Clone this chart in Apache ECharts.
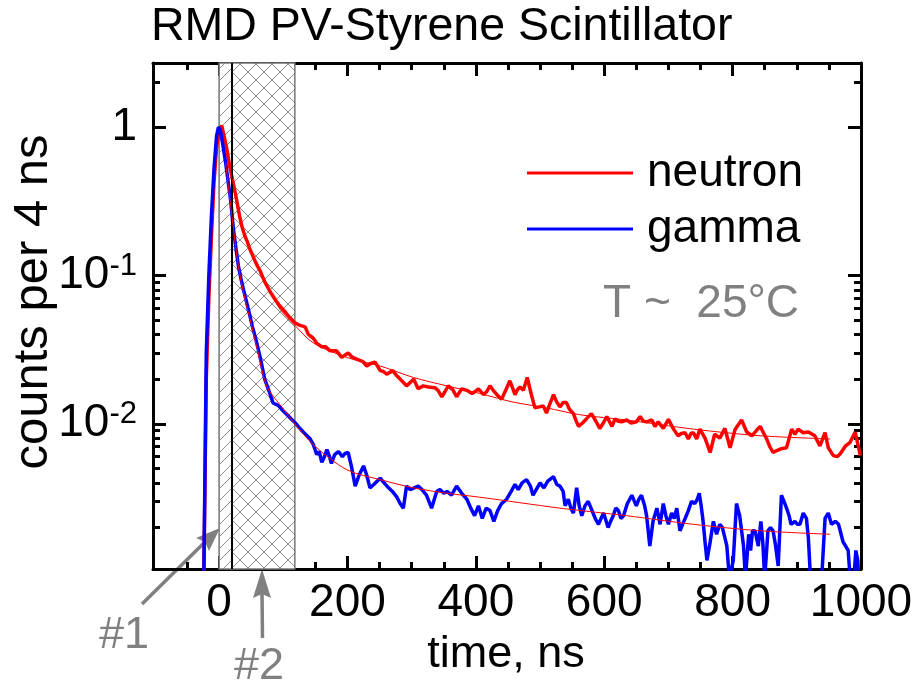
<!DOCTYPE html>
<html>
<head>
<meta charset="utf-8">
<script src="https://cdn.jsdelivr.net/npm/echarts@6/dist/echarts.min.js"></script>
<style>
html, body { margin: 0; padding: 0; background: #fff; }
#main { width: 916px; height: 691px; }
</style>
</head>
<body>
<div id="main"></div>
<script>
// time axis ticks (ns)
const xMajor = [0, 200, 400, 600, 800, 1000];
const xMinor = [-50, 50, 100, 150, 250, 300, 350, 450, 500, 550, 650, 700, 750, 850, 900, 950];
const yMajor = [0.01, 0.1, 1];
const yMinor = [0.002, 0.003, 0.004, 0.005, 0.006, 0.007, 0.008, 0.009,
    0.02, 0.03, 0.04, 0.05, 0.06, 0.07, 0.08, 0.09, 2];

// gate regions #1 and #2 (ns)
const gateT = [0, 20, 118];

// neutron pulse shape
const neutronT = [-24, -20, -16, -12, -8, -4, 0, 4, 8, 12, 16, 20, 24, 28, 32, 36, 40, 44, 48, 52, 56, 60, 64, 68, 72, 80, 88, 95, 104, 110, 118,
    126, 134, 139, 146, 152, 160, 166, 173, 183, 191, 196, 201, 208, 217, 224, 230, 236, 243, 251, 256, 261, 266, 271, 276, 282, 287, 292, 298,
    303, 310, 318, 326, 336, 341, 347, 352, 357, 364, 370, 378, 386, 394, 399, 404, 412, 417, 422, 427, 434, 440, 447, 453, 461, 465, 469, 474,
    480, 486, 492, 499, 505, 510, 515, 521, 526, 531, 536, 541, 546, 552, 556, 560, 567, 574, 580, 587, 593, 599, 604, 612, 617, 622, 627, 635,
    642, 650, 656, 661, 666, 674, 679, 684, 692, 700, 708, 715, 720, 726, 731, 735, 739, 744, 749, 757, 765, 772, 780, 788, 796, 804, 814, 822,
    830, 837, 843, 848, 853, 858, 863, 869, 876, 884, 892, 897, 902, 910, 918, 928, 936, 944, 949, 957, 963, 968, 976, 983, 991, 999];
const neutronV = [0.0008, 0.02, 0.07, 0.18, 0.42, 0.72, 0.95, 1.02, 0.86, 0.71, 0.56, 0.46, 0.38, 0.31, 0.25, 0.21, 0.185, 0.168, 0.15, 0.137,
    0.125, 0.115, 0.107, 0.097, 0.089, 0.077, 0.068, 0.062, 0.056, 0.052, 0.048,
    0.046, 0.045, 0.040, 0.038, 0.035, 0.033, 0.033, 0.031, 0.031, 0.028, 0.029, 0.030, 0.028, 0.027, 0.0262, 0.0245, 0.0255, 0.026, 0.0228,
    0.0225, 0.0216, 0.0222, 0.0228, 0.0212, 0.020, 0.019, 0.018, 0.019,
    0.020, 0.0172, 0.018, 0.0177, 0.0175, 0.0168, 0.0152, 0.0165, 0.018, 0.017, 0.0152, 0.0172, 0.0168, 0.016, 0.0165, 0.0172, 0.0157, 0.0165,
    0.018, 0.0168, 0.0155, 0.0146, 0.017, 0.0195, 0.0157, 0.017, 0.0177, 0.0168,
    0.0205, 0.016, 0.0128, 0.013, 0.0132, 0.0118, 0.0135, 0.0157, 0.014, 0.013, 0.0139, 0.0139, 0.0125, 0.0117, 0.0105, 0.0096, 0.0102, 0.011,
    0.0117, 0.0104, 0.0093, 0.0102, 0.0112, 0.0096, 0.0108, 0.0104, 0.0103, 0.0106,
    0.0101, 0.0103, 0.0112, 0.0104, 0.0103, 0.0106, 0.0096, 0.0103, 0.0093, 0.0107, 0.0092, 0.0083, 0.0086, 0.0087, 0.0079, 0.0086, 0.0087,
    0.0079, 0.0092, 0.008, 0.0064, 0.0085, 0.008, 0.0093, 0.0069, 0.0092, 0.0106, 0.0088,
    0.0083, 0.009, 0.0096, 0.0087, 0.0079, 0.007, 0.0064, 0.0066, 0.0068, 0.0069, 0.0092, 0.0085, 0.0092, 0.0087, 0.0088, 0.0083, 0.0071,
    0.0087, 0.0069, 0.0061, 0.006, 0.0063, 0.0071, 0.0075, 0.0088, 0.0061];

// gamma pulse shape
const gammaT = [-24, -20, -16, -12, -8, -4, -1, 2, 6, 10, 14, 18, 22, 26, 30, 34, 38, 46, 52, 58, 64, 71, 78, 84, 87, 92, 95, 100, 106, 112, 118,
    124, 131, 137, 142, 147, 152, 156, 160, 164, 168, 172, 175, 180, 186, 192, 196, 201, 206, 212, 218, 225, 230, 235, 241, 246, 251, 257, 264,
    270, 277, 282, 287, 292, 298, 304, 310, 316, 323, 331, 339, 344, 350, 355, 362, 370, 378, 386, 392, 398, 404, 410, 416, 422, 428, 434, 440,
    448, 455, 461, 466, 472, 479, 485, 489, 494, 500, 506, 512, 521, 526, 531, 536, 539, 544, 548, 552, 557, 561, 565, 570, 575, 581, 586, 591,
    595, 599, 603, 606, 610, 614, 618, 622, 626, 630, 636, 643, 647, 650, 654, 658, 663, 666, 671, 676, 682, 687, 692, 696, 700, 705, 709, 713,
    718, 722, 726, 731, 736, 741, 745, 748, 751, 754, 757, 760, 765, 770, 775, 780, 784, 788, 791, 795, 801, 806, 811, 817, 820, 825, 828, 831,
    835, 840, 844, 847, 850, 855, 859, 863, 867, 871, 876, 880, 884, 888, 891, 897, 901, 905, 910, 915, 918, 922, 930, 938, 944, 949, 954, 960,
    965, 969, 972, 976, 980, 984, 988, 992, 995, 997, 1000];
const gammaV = [0.0008, 0.03, 0.1, 0.25, 0.52, 0.87, 1.0, 0.95, 0.75, 0.58, 0.43, 0.32, 0.21, 0.155, 0.116, 0.095, 0.08, 0.058, 0.045, 0.036,
    0.028, 0.020, 0.0165, 0.0138, 0.0136, 0.0133, 0.0131, 0.0122, 0.0115, 0.0108, 0.0102,
    0.0095, 0.0088, 0.0083, 0.0079, 0.0072, 0.0062, 0.0065, 0.0055, 0.006, 0.0067, 0.006, 0.0054, 0.0062, 0.0065, 0.006, 0.0063, 0.0064, 0.0052,
    0.0038, 0.0045, 0.0052, 0.0045, 0.0037, 0.0039, 0.0041, 0.0043, 0.004, 0.0037,
    0.0035, 0.0032, 0.0029, 0.0027, 0.0038, 0.0036, 0.0037, 0.0038, 0.0036, 0.0033, 0.0027, 0.0035, 0.0036, 0.0034, 0.0035, 0.0033, 0.0038,
    0.0034, 0.0031, 0.0027, 0.0024, 0.0028, 0.0023, 0.0027, 0.0026, 0.0022, 0.0026, 0.0029,
    0.0031, 0.0035, 0.0039, 0.0036, 0.004, 0.0042, 0.0038, 0.0033, 0.0036, 0.004, 0.0037, 0.0041, 0.0044, 0.0039, 0.0038, 0.0035, 0.0028,
    0.0031, 0.0027, 0.0025, 0.0037, 0.0028, 0.0024, 0.0028, 0.003, 0.0026, 0.0023, 0.0021,
    0.0023, 0.0025, 0.0022, 0.002, 0.0022, 0.0024, 0.0027, 0.0026, 0.0023, 0.0024, 0.0029, 0.0033, 0.003, 0.0028, 0.0031, 0.0033, 0.0028,
    0.0024, 0.0015, 0.0022, 0.0027, 0.0021, 0.0029, 0.0024, 0.0021, 0.0025, 0.0023, 0.0027,
    0.0019, 0.0021, 0.0023, 0.0026, 0.003, 0.0029, 0.0031, 0.0034, 0.0028, 0.0022, 0.0016, 0.0012, 0.0016, 0.0022, 0.0018, 0.0021, 0.002,
    0.0017, 0.0015, 0.0009, 0.0012, 0.0029, 0.0024, 0.0015, 0.0009, 0.0018, 0.0014, 0.0019,
    0.0019, 0.0015, 0.0022, 0.0016, 0.0009, 0.0019, 0.002, 0.0019, 0.0015, 0.0011, 0.0033, 0.003, 0.0027, 0.0024, 0.0021, 0.0022, 0.0021,
    0.0021, 0.0025, 0.0023, 0.0017, 0.0008, 0.0006, 0.0008, 0.0023, 0.0025, 0.0021, 0.0022,
    0.0021, 0.0018, 0.0016, 0.0015, 0.0014, 0.0008, 0.0008, 0.0014, 0.0012, 0.0008, 0.0008];

// fitted tails
const neutronFitT = [10, 20, 30, 40, 50, 60, 70, 80, 95, 118, 147, 199, 251, 303, 355, 406, 458, 510, 562, 635, 739, 843, 952];
const neutronFitV = [0.7, 0.45, 0.28, 0.19, 0.145, 0.115, 0.093, 0.077, 0.059, 0.046, 0.035, 0.028, 0.0245, 0.0205, 0.018, 0.016, 0.014,
    0.0128, 0.0115, 0.0106, 0.0092, 0.0083, 0.0079];
const gammaFitT = [10, 20, 30, 40, 50, 60, 74, 100, 118, 147, 199, 251, 303, 355, 406, 531, 635, 739, 843, 952];
const gammaFitV = [0.58, 0.25, 0.116, 0.07, 0.047, 0.031, 0.018, 0.0126, 0.0100, 0.0072, 0.0049, 0.0042, 0.0037, 0.0034, 0.0032, 0.0027,
    0.0024, 0.0021, 0.0019, 0.0018];

const FONT = '"Liberation Sans", Arial, sans-serif';
const GRAY = '#808080';

function zip(a, b) {
    return a.map((v, i) => [v, b[i]]);
}

function hatchTile(size, cross) {
    const c = document.createElement('canvas');
    c.width = size;
    c.height = size;
    const g = c.getContext('2d');
    g.fillStyle = '#fff';
    g.fillRect(0, 0, size, size);
    g.strokeStyle = '#8c8c8c';
    g.lineWidth = 1;
    g.beginPath();
    g.moveTo(-1, size + 1);
    g.lineTo(size + 1, -1);
    if (cross) {
        g.moveTo(-1, -1);
        g.lineTo(size + 1, size + 1);
    }
    g.stroke();
    return c;
}

const chartDom = document.getElementById('main');
const myChart = echarts.init(chartDom, null, {renderer: 'canvas'});

const axisLineStyle = {color: '#000', width: 3};

function xAxisDef(position, ticks, len, withLine, withLabel) {
    return {
        type: 'value',
        position: position,
        min: -103,
        max: 1000,
        splitLine: {show: false},
        axisLine: {show: withLine, onZero: false, lineStyle: axisLineStyle},
        axisTick: {show: true, inside: true, length: len, customValues: ticks, lineStyle: {color: '#000', width: 3}},
        axisLabel: {
            show: withLabel,
            customValues: ticks,
            fontSize: 46,
            fontFamily: FONT,
            color: '#000',
            margin: 11,
            formatter: function (v) {
                return String(v);
            }
        }
    };
}

function yAxisDef(position, ticks, len, withLine, withLabel) {
    return {
        type: 'log',
        position: position,
        min: 0.00105,
        max: 2.7,
        splitLine: {show: false},
        minorTick: {show: false},
        axisLine: {show: withLine, onZero: false, lineStyle: axisLineStyle},
        axisTick: {show: true, inside: true, length: len, customValues: ticks, lineStyle: {color: '#000', width: 3}},
        axisLabel: {
            show: withLabel,
            customValues: ticks,
            fontSize: 46,
            fontFamily: FONT,
            color: '#000',
            margin: 16,
            formatter: function (v) {
                if (Math.abs(v - 1) < 1e-9) return '1';
                return '10{sup|' + Math.round(Math.log10(v)) + '}';
            },
            rich: {
                sup: {fontSize: 31, fontFamily: FONT, color: '#000', verticalAlign: 'top', padding: [0, 0, 18, 0]}
            }
        }
    };
}

let option = {
    backgroundColor: '#fff',
    animation: false,
    grid: {left: 153, right: 55, top: 63, bottom: 122, containLabel: false},
    xAxis: [
        xAxisDef('bottom', xMajor, 13, true, true),
        xAxisDef('bottom', xMinor, 7, false, false),
        xAxisDef('top', xMajor, 13, true, false),
        xAxisDef('top', xMinor, 7, false, false)
    ],
    yAxis: [
        yAxisDef('left', yMajor, 13, true, true),
        yAxisDef('left', yMinor, 7, false, false),
        yAxisDef('right', yMajor, 13, true, false),
        yAxisDef('right', yMinor, 7, false, false)
    ],
    legend: {
        data: [{name: 'neutron', icon: 'rect'}, {name: 'gamma', icon: 'rect'}],
        orient: 'vertical',
        left: 527,
        top: 150,
        itemWidth: 106,
        itemHeight: 3,
        itemGap: 10,
        padding: 0,
        textStyle: {fontSize: 46, fontFamily: FONT, color: '#000', padding: [0, 0, 0, 9]}
    },
    graphic: [
        {type: 'text', x: 151, y: 27, style: {text: 'RMD PV-Styrene Scintillator', font: '46.5px ' + FONT, fill: '#000', textVerticalAlign: 'middle'}},
        {type: 'text', x: 33, y: 302, rotation: Math.PI / 2, style: {text: 'counts per 4 ns', font: '49px ' + FONT, fill: '#000', textAlign: 'center', textVerticalAlign: 'middle'}},
        {type: 'text', x: 506, y: 655, style: {text: 'time, ns', font: '45px ' + FONT, fill: '#000', textAlign: 'center', textVerticalAlign: 'middle'}},
        {type: 'text', x: 603, y: 304, style: {text: 'T ~  25\u00B0C', font: '46px ' + FONT, fill: GRAY, textVerticalAlign: 'middle'}},
        {type: 'text', x: 99, y: 636, style: {text: '#1', font: '45px ' + FONT, fill: GRAY, textVerticalAlign: 'middle'}},
        {type: 'text', x: 234, y: 667, style: {text: '#2', font: '45px ' + FONT, fill: GRAY, textVerticalAlign: 'middle'}},
        {type: 'line', shape: {x1: 142, y1: 604, x2: 207, y2: 540}, style: {stroke: GRAY, lineWidth: 3.5}},
        {type: 'polygon', shape: {points: [[220, 528], [209, 551], [205, 542], [196, 538]]}, style: {fill: GRAY}},
        {type: 'line', shape: {x1: 262.5, y1: 638, x2: 262, y2: 592}, style: {stroke: GRAY, lineWidth: 3.5}},
        {type: 'polygon', shape: {points: [[262, 569], [271, 598], [262, 594], [253, 598]]}, style: {fill: GRAY}}
    ],
    series: [
        {
            name: 'gates',
            type: 'line',
            data: [],
            z: 1,
            silent: true,
            markArea: {
                silent: true,
                data: [
                    [{xAxis: gateT[0], itemStyle: {color: {image: hatchTile(12, false), repeat: 'repeat'}, borderColor: '#777', borderWidth: 1.5}}, {xAxis: gateT[1]}],
                    [{xAxis: gateT[1], itemStyle: {color: {image: hatchTile(16, true), repeat: 'repeat'}, borderColor: '#777', borderWidth: 1.5}}, {xAxis: gateT[2]}]
                ]
            },
            markLine: {
                silent: true,
                symbol: ['none', 'none'],
                label: {show: false},
                lineStyle: {color: '#000', width: 2, type: 'solid'},
                data: [{xAxis: gateT[1]}]
            }
        },
        {
            name: 'neutron',
            type: 'line',
            data: zip(neutronT, neutronV),
            symbol: 'none',
            color: '#ff0000',
            lineStyle: {color: '#ff0000', width: 3.5},
            z: 3
        },
        {
            name: 'gamma',
            type: 'line',
            data: zip(gammaT, gammaV),
            symbol: 'none',
            color: '#0000ff',
            lineStyle: {color: '#0000ff', width: 3.5},
            z: 4
        },
        {
            name: 'neutron fit',
            type: 'line',
            data: zip(neutronFitT, neutronFitV),
            symbol: 'none',
            smooth: 0.3,
            lineStyle: {color: '#ff0000', width: 1},
            z: 5
        },
        {
            name: 'gamma fit',
            type: 'line',
            data: zip(gammaFitT, gammaFitV),
            symbol: 'none',
            smooth: 0.3,
            lineStyle: {color: '#ff0000', width: 1},
            z: 5
        }
    ]
};

option && myChart.setOption(option);
</script>
</body>
</html>
